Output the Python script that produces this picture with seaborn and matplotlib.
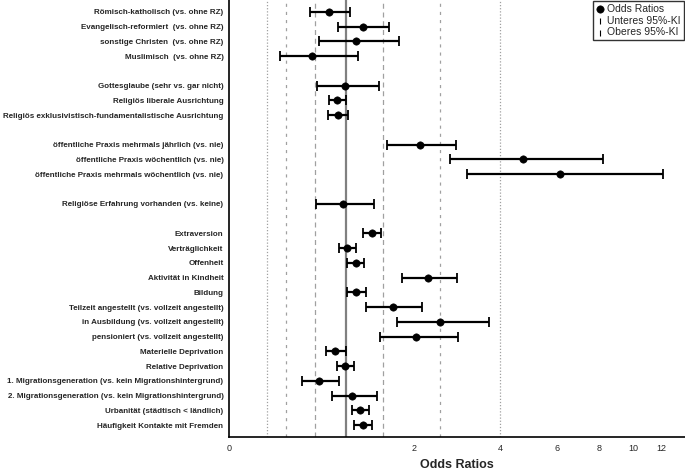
import matplotlib
matplotlib.use('Agg')
import matplotlib.pyplot as plt
import seaborn as sns
import numpy as np
import pandas as pd

sns.set_style("white")
plt.rcParams['font.family'] = ['Liberation Sans', 'DejaVu Sans']

# Data
labels = [
    "Römisch-katholisch (vs. ohne RZ)",
    "Evangelisch-reformiert  (vs. ohne RZ)",
    "sonstige Christen  (vs. ohne RZ)",
    "Muslimisch  (vs. ohne RZ)",
    "Gottesglaube (sehr vs. gar nicht)",
    "Religiös liberale Ausrichtung",
    "Religiös exklusivistisch-fundamentalistische Ausrichtung",
    "öffentliche Praxis mehrmals jährlich (vs. nie)",
    "öffentliche Praxis wöchentlich (vs. nie)",
    "öffentliche Praxis mehrmals wöchentlich (vs. nie)",
    "Religiöse Erfahrung vorhanden (vs. keine)",
    "Extraversion",
    "Verträglichkeit",
    "Offenheit",
    "Aktivität in Kindheit",
    "Bildung",
    "Teilzeit angestellt (vs. vollzeit angestellt)",
    "in Ausbildung (vs. vollzeit angestellt)",
    "pensioniert (vs. vollzeit angestellt)",
    "Materielle Deprivation",
    "Relative Deprivation",
    "1. Migrationsgeneration (vs. kein Migrationshintergrund)",
    "2. Migrationsgeneration (vs. kein Migrationshintergrund)",
    "Urbanität (städtisch < ländlich)",
    "Häufigkeit Kontakte mit Fremden",
]
odds_ratios = [0.81, 1.21, 1.12, 0.64, 0.99, 0.90, 0.91, 2.11, 4.72, 6.14, 0.97,
               1.33, 1.01, 1.12, 2.26, 1.13, 1.64, 2.50, 2.04, 0.88, 0.99, 0.71,
               1.08, 1.18, 1.22]
ci_lower = [0.62, 0.91, 0.71, 0.35, 0.69, 0.81, 0.80, 1.56, 2.71, 3.10, 0.68,
            1.21, 0.92, 1.02, 1.79, 1.02, 1.26, 1.71, 1.45, 0.78, 0.90, 0.545,
            0.84, 1.07, 1.10]
ci_upper = [1.05, 1.59, 1.75, 1.15, 1.44, 1.00, 1.03, 2.85, 8.22, 12.16, 1.37,
            1.46, 1.12, 1.23, 2.86, 1.26, 2.14, 3.69, 2.89, 1.00, 1.10, 0.92,
            1.40, 1.30, 1.34]
group_sizes = [4, 3, 3, 1, 14]
ref_lines = [0.25, 0.4, 0.667, 1.5, 2.5, 4]
x_ticks = [0, 2, 4, 6, 8, 10, 12]

# row positions: one empty slot between groups
rows = []
pos = 0
for n in group_sizes:
    rows.extend(range(pos, pos + n))
    pos += n + 1

df = pd.DataFrame({'label': labels, 'OR': odds_ratios, 'lo': ci_lower,
                   'hi': ci_upper, 'row': rows})

fig = plt.figure(figsize=(6.85, 4.71), dpi=100)
ax = fig.add_axes([229 / 685, 34 / 471, 456 / 685, 437 / 471])

ax.set_xscale('function', functions=(np.log1p, np.expm1))

# reference lines
styles = {0.25: (0, (1, 1.5)), 0.4: (0, (2.5, 4)), 0.667: (0, (4, 3)),
          1.5: (0, (4, 3)), 2.5: (0, (2.5, 4)), 4: (0, (1, 1.5))}
for v in ref_lines:
    ax.axvline(v, color='#a0a0a0', lw=0.9, ls=styles[v], zorder=1)
ax.axvline(1, color='#808080', lw=1.6, zorder=1)

ax.hlines(df['row'], df['lo'], df['hi'], color='black', lw=1.6, zorder=2)
sns.scatterplot(data=df, x='lo', y='row', marker='|', s=45, color='black',
                linewidth=1.3, label='Unteres 95%-KI', ax=ax, zorder=3)
sns.scatterplot(data=df, x='hi', y='row', marker='|', s=45, color='black',
                linewidth=1.3, label='Oberes 95%-KI', ax=ax, zorder=3)
sns.scatterplot(data=df, x='OR', y='row', marker='o', s=28, color='black',
                edgecolor='black', label='Odds Ratios', ax=ax, zorder=4)

ax.set_xlim(0, 13.97)
ax.set_ylim(28.81, -0.81)
ax.set_xticks(x_ticks)
ax.set_xticklabels([str(t) for t in x_ticks], fontsize=6.5)
ax.set_yticks(df['row'])
ax.set_yticklabels(df['label'], fontsize=5.8, fontweight='bold')
ax.tick_params(axis='both', length=0)
ax.tick_params(axis='y', pad=4)
ax.tick_params(axis='x', pad=5)
ax.set_xlabel('Odds Ratios', fontsize=9, fontweight='bold', labelpad=4)
ax.set_ylabel('')

for side in ['top', 'right']:
    ax.spines[side].set_visible(False)
for side in ['left', 'bottom']:
    ax.spines[side].set_color('black')
    ax.spines[side].set_linewidth(1.2)

handles, leg_labels = ax.get_legend_handles_labels()
order = [leg_labels.index(n) for n in ['Odds Ratios', 'Unteres 95%-KI', 'Oberes 95%-KI']]
leg = ax.legend([handles[i] for i in order], [leg_labels[i] for i in order],
                loc='upper right', fontsize=7.5, frameon=True, fancybox=False,
                edgecolor='black', borderaxespad=0.1, handletextpad=0.3,
                handlelength=0.8, labelspacing=0.15, borderpad=0.3)
leg.get_frame().set_linewidth(1.0)
for h in leg.legend_handles[1:]:
    h.set_sizes([14])
    h.set_linewidths([0.8])

plt.savefig('out.png', dpi=100)
plt.close()
